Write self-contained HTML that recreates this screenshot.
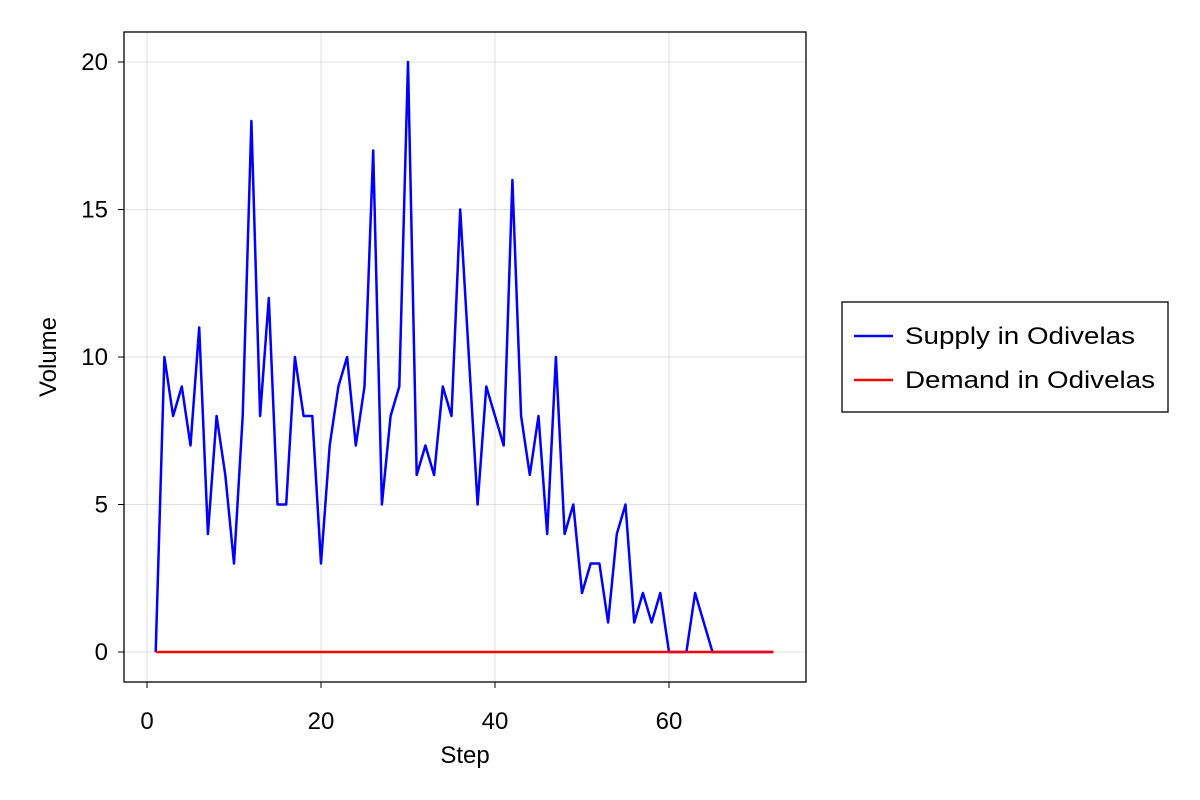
<!DOCTYPE html>
<html><head><meta charset="utf-8"><style>
html,body{margin:0;padding:0;background:#fff;}
svg{display:block;font-family:"Liberation Sans",Arial,sans-serif;}
</style></head><body>
<svg id="chart" width="1200" height="800"></svg>
<script>
const steps = Array.from({length:72},(_,i)=>i+1);
const supply = [0,10,8,9,7,11,4,8,6,3,8,18,8,12,5,5,10,8,8,3,7,9,10,7,9,17,5,8,9,20,6,7,6,9,8,15,10,5,9,8,7,16,8,6,8,4,10,4,5,2,3,3,1,4,5,1,2,1,2,0,0,0,2,1,0,0,0,0,0,0,0,0];
const demand = steps.map(()=>0);
const xTicks = [0,20,40,60];
const yTicks = [0,5,10,15,20];

const NS='http://www.w3.org/2000/svg';
const svg=document.getElementById('chart');
const L=124,T=32,R=806,B=682;
const xs=v=>147+(v-0)*(669-147)/60;
const ys=v=>652-(v-0)*(652-62)/20;
function mk(tag,attrs,parent){const e=document.createElementNS(NS,tag);for(const k in attrs)e.setAttribute(k,attrs[k]);(parent||svg).appendChild(e);return e;}

const grid=mk('g',{});


xTicks.forEach(t=>{mk('line',{x1:xs(t),x2:xs(t),y1:T,y2:B,stroke:'#000','stroke-opacity':0.12,'stroke-width':1},grid);});
yTicks.forEach(t=>{mk('line',{x1:L,x2:R,y1:ys(t),y2:ys(t),stroke:'#000','stroke-opacity':0.12,'stroke-width':1},grid);});

const xa=mk('g',{});


xTicks.forEach(t=>{
  mk('line',{x1:xs(t),x2:xs(t),y1:B,y2:B+6,stroke:'#000'},xa);
  const tx=mk('text',{x:xs(t),y:729,'text-anchor':'middle','font-size':24},xa);tx.textContent=t;
  
  
});
const ya=mk('g',{});


yTicks.forEach(t=>{
  mk('line',{x1:L-6,x2:L,y1:ys(t),y2:ys(t),stroke:'#000'},ya);
  const tx=mk('text',{x:108,y:ys(t)+8,'text-anchor':'end','font-size':24},ya);tx.textContent=t;
  
  
});
const xt=mk('text',{x:465,y:763,'text-anchor':'middle','font-size':24});xt.textContent='Step';


const yt=mk('text',{x:56,y:357,'text-anchor':'middle','font-size':24,transform:'rotate(-90 56 357)'});yt.textContent='Volume';



const sl=mk('polyline',{points:steps.map((s,i)=>xs(s)+','+ys(supply[i])).join(' '),fill:'none',stroke:'#0000ff','stroke-width':2.5,'stroke-linejoin':'round'});


const dl=mk('polyline',{points:steps.map((s,i)=>xs(s)+','+ys(demand[i])).join(' '),fill:'none',stroke:'#ff0000','stroke-width':2.5});



const fr=mk('rect',{x:L,y:T,width:R-L,height:B-T,fill:'none',stroke:'#000','stroke-width':1.3});



const lg=mk('g',{});


mk('rect',{x:842,y:302,width:326,height:110,fill:'#fff',stroke:'#000','stroke-width':1.3},lg);
const e1=mk('g',{},lg);


mk('line',{x1:854,x2:893,y1:336,y2:336,stroke:'#0000ff','stroke-width':2.5},e1);
const t1=mk('text',{x:905,y:344,'font-size':24,textLength:230,lengthAdjust:'spacingAndGlyphs'},e1);t1.textContent='Supply in Odivelas';
const e2=mk('g',{},lg);


mk('line',{x1:854,x2:893,y1:380,y2:380,stroke:'#ff0000','stroke-width':2.5},e2);
const t2=mk('text',{x:905,y:388,'font-size':24,textLength:250,lengthAdjust:'spacingAndGlyphs'},e2);t2.textContent='Demand in Odivelas';
</script>
</body></html>
